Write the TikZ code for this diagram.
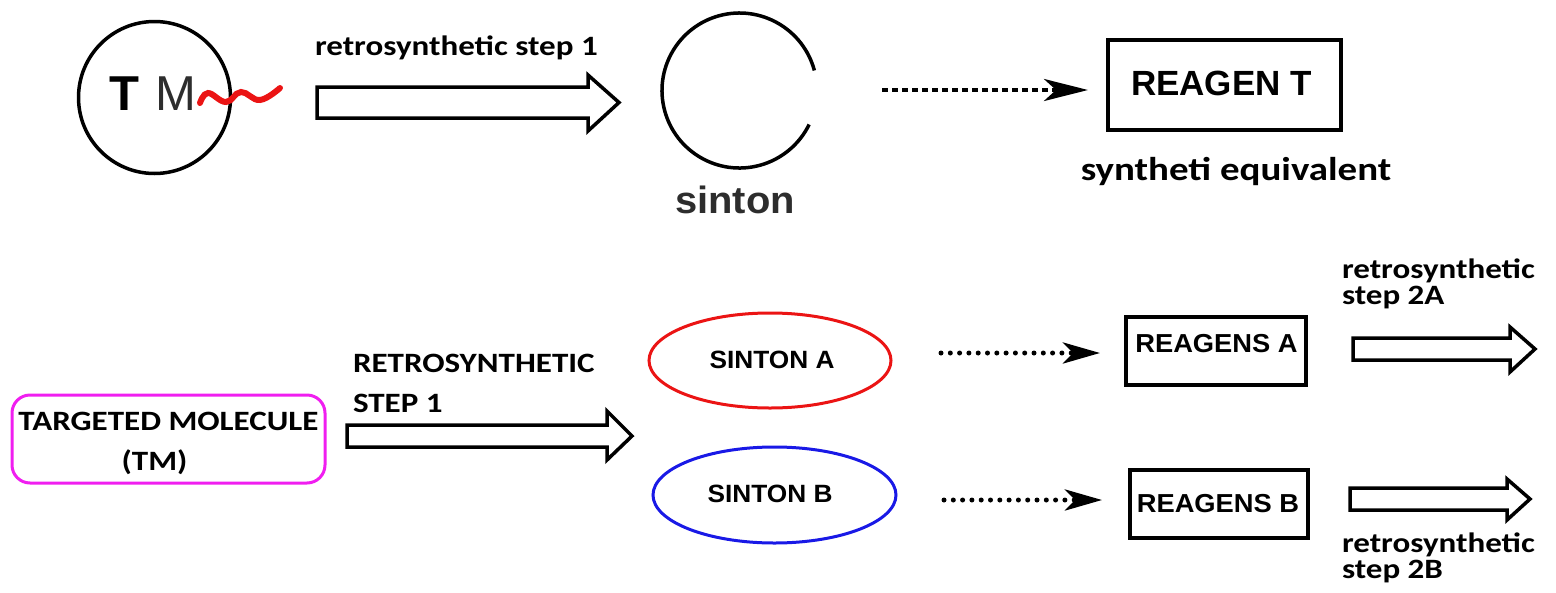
\documentclass[tikz,border=0pt]{standalone}
\usepackage{fontspec}
\usetikzlibrary{arrows.meta,shapes.geometric}
\newfontfamily\calb[FakeStretch=1.18]{Carlito}
\newfontfamily\ari{Liberation Sans}
\newfontfamily\aris[FakeStretch=1.05]{Liberation Sans}
\newcommand\fsz[2]{\fontsize{#1pt}{#2pt}\selectfont}
\definecolor{mag}{RGB}{240,30,240}
\definecolor{sred}{RGB}{235,20,20}
\definecolor{sblue}{RGB}{25,25,230}
\definecolor{mgray}{RGB}{45,45,45}
\begin{document}
\begin{tikzpicture}[x=1pt,y=-1pt,
  lbl/.style={inner sep=0pt, outer sep=0pt},
  cal/.style={lbl, font={\calb\bfseries\fsz{28}{26}}},
  arl/.style={lbl, font={\aris\bfseries\fsz{25}{28}}},
  boxstyle/.style={draw, line width=3.5pt, inner sep=0pt, outer sep=0pt},
  blockarrow/.style={draw=black, line width=3.5pt, fill=white, line join=miter},
  dasharrow/.style={line width=4pt, dash pattern=on 6pt off 4pt,
     -{Stealth[length=44pt,width=22pt,inset=12pt]}},
  dotarrow/.style={line width=5pt, line cap=round, dash pattern=on 0pt off 9.3pt,
     -{Stealth[length=37pt,width=21pt,inset=10pt]}},
  sintell/.style={ellipse, draw, line width=3pt, inner sep=0pt, outer sep=0pt}
]
\useasboundingbox (0,0) rectangle (1556,592);

% ---------- top row ----------
\node[circle, draw, line width=3.5pt, minimum size=152pt, inner sep=0pt, outer sep=0pt] (tm) at (154.5,97.5) {};
\node[lbl, anchor=base, font={\ari\bfseries\fsz{49}{50}}] (tmT) at (124.5,110) {T};
\node[lbl, anchor=base, font={\ari\fsz{49}{50}}, text=mgray] (tmM) at (176,110) {M};
\draw[sred, line width=6pt, line cap=round] plot[smooth, tension=0.7]
  coordinates {(200,103) (208,93) (226,102) (241,92) (260,100) (280,88)};

\node[cal, anchor=base west] (lab1) at (315,55) {retrosynthetic step 1};
\draw[blockarrow] (317,87) -- (588,87) -- (588,75) -- (619,102.5) -- (588,131) -- (588,118) -- (317,118) -- cycle;

\node[circle, minimum size=155pt, inner sep=0pt, outer sep=0pt] (sin) at (739.5,90.5) {};
\draw[line width=3.5pt] (sin.15) arc[start angle=15, end angle=334, radius=77.5pt];
\node[lbl, anchor=base, font={\aris\bfseries\fsz{38}{40}}, text=mgray] (sinlab) at (735,213) {sinton};

\node[boxstyle, line width=4pt, minimum width=233pt, minimum height=90pt] (reag) at (1224.5,85) {};
\node[lbl, anchor=base, font={\ari\bfseries\fsz{35}{36}}] (reagtxt) at (1221.5,95) {REAGEN T};
\node[lbl, anchor=base, font={\calb\bfseries\fsz{33}{34}}] (synlab) at (1236,180) {syntheti equivalent};

\coordinate (d0) at (882,90);
\draw[dasharrow, shorten >=20pt] (d0) -- (d0 -| reag.west);

% ---------- bottom row ----------
\node[draw=mag, line width=3pt, rounded corners=18pt, minimum width=313pt, minimum height=88pt,
      inner sep=0pt, outer sep=0pt] (tmbox) at (168.5,439) {};
\node[cal, anchor=base, align=center, font={\calb\bfseries\fsz{28}{40}}] (tmtxt) at (168.5,470)
  {TARGETED MOLECULE\\(TM)\hspace*{28pt}};

\node[cal, anchor=base west, align=left, font={\calb\bfseries\fsz{28}{40}}] (lab2) at (353,412)
  {RETROSYNTHETIC\\STEP 1};
\draw[blockarrow] (347,425) -- (607,425) -- (607,411) -- (632,436) -- (607,460) -- (607,447) -- (347,447) -- cycle;

\node[sintell, draw=sred, minimum width=242pt, minimum height=95pt] (sa) at (770,360.5) {};
\node[arl, anchor=base] (satxt) at (772,368) {SINTON A};
\node[sintell, draw=sblue, minimum width=243pt, minimum height=96pt] (sb) at (774.5,495) {};
\node[arl, anchor=base] (sbtxt) at (770,502) {SINTON B};

\node[boxstyle, minimum width=180pt, minimum height=68pt] (ra) at (1216,351) {};
\node[arl, anchor=base, font={\aris\bfseries\fsz{26}{28}}] (ratxt) at (1216.5,352) {REAGENS A};
\node[boxstyle, minimum width=178pt, minimum height=68pt] (rb) at (1219,504) {};
\node[arl, anchor=base, font={\aris\bfseries\fsz{26}{28}}] (rbtxt) at (1218,512) {REAGENS B};

\coordinate (da) at (941,353);
\coordinate (db) at (944,500);
\draw[dotarrow, shorten >=26pt] (da) -- (da -| ra.west);
\draw[dotarrow, shorten >=28pt] (db) -- (db -| rb.west);

\draw[blockarrow] (1353,338) -- (1510,338) -- (1510,327) -- (1535,349) -- (1510,372) -- (1510,360) -- (1353,360) -- cycle;
\draw[blockarrow] (1350,488) -- (1507,488) -- (1507,479) -- (1530,499) -- (1507,520) -- (1507,510) -- (1350,510) -- cycle;

\node[cal, anchor=base west, align=left] (lab2a) at (1342,304) {retrosynthetic\\step 2A};
\node[cal, anchor=base west, align=left] (lab2b) at (1342,578) {retrosynthetic\\step 2B};
\end{tikzpicture}
\end{document}
